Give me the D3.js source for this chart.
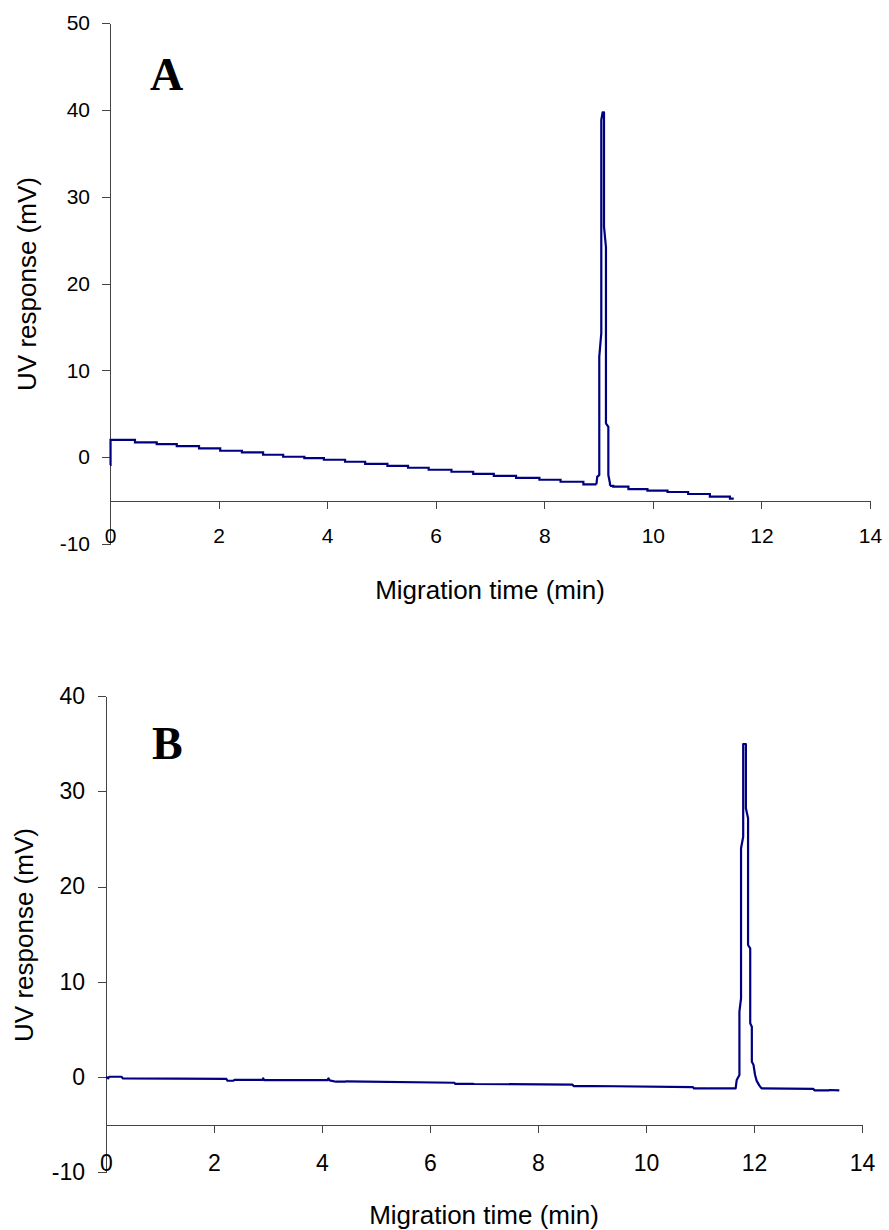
<!DOCTYPE html>
<html>
<head>
<meta charset="utf-8">
<script src="https://cdn.jsdelivr.net/npm/d3@7"></script>
<style>
  body { margin: 0; background: #fff; }
  svg { display: block; font-family: "Liberation Sans", Arial, sans-serif; }
  .axis path, .axis line { stroke: #444; shape-rendering: crispEdges; }
  .axis text { fill: #000; }
</style>
</head>
<body>
<svg id="chart" width="889" height="1230"></svg>
<script>
// tick values
const xTicks = [0, 2, 4, 6, 8, 10, 12, 14];
const yTicksA = [-10, 0, 10, 20, 30, 40, 50];
const yTicksB = [-10, 0, 10, 20, 30, 40];

// panel A: [time (min), response (mV)]
const aBaseline = [
  [0.00, -0.9], [0.01, 1.98], [0.46, 1.71], [0.86, 1.51], [1.23, 1.28], [1.64, 1.02],
  [2.03, 0.74], [2.43, 0.56], [2.82, 0.28], [3.19, 0.05], [3.58, -0.12], [3.94, -0.30],
  [4.33, -0.53], [4.70, -0.77], [5.11, -1.00], [5.49, -1.22], [5.87, -1.45], [6.29, -1.68],
  [6.69, -1.92], [7.07, -2.15], [7.48, -2.38], [7.91, -2.60], [8.30, -2.83], [8.72, -3.13],
  [8.96, -3.13]
];
const aPeak = [
  [8.96, -3.13], [8.976, -2.25], [9.013, -2.06], [9.013, 11.57], [9.05, 14.27], [9.05, 38.83],
  [9.075, 39.72], [9.10, 39.72], [9.10, 26.54], [9.136, 24.2], [9.136, 3.9], [9.18, 3.5],
  [9.18, -2.06], [9.21, -3.0], [9.21, -3.3]
];
const aTail = [
  [9.21, -3.3], [9.27, -3.4], [9.55, -3.67], [9.90, -3.86], [10.27, -4.01], [10.65, -4.24],
  [11.05, -4.55], [11.42, -4.78], [11.47, -4.9]
];

// panel B
const bTrace = [
  [0.00, 0.03], [0.04, -0.14], [0.06, 0.03], [0.29, 0.03], [0.31, -0.14], [2.23, -0.20],
  [2.25, -0.39], [2.36, -0.39], [2.38, -0.30], [2.90, -0.30], [2.91, -0.14], [2.93, -0.33],
  [4.10, -0.33], [4.12, -0.14], [4.14, -0.35], [4.26, -0.49], [4.43, -0.49], [4.45, -0.45],
  [6.45, -0.60], [6.47, -0.72], [6.80, -0.72], [6.82, -0.73], [8.64, -0.80], [8.66, -0.95],
  [8.99, -0.95], [9.01, -0.94], [10.87, -1.05], [10.89, -1.20], [11.15, -1.20], [11.17, -1.19],
  [11.66, -1.19], [11.68, -0.31], [11.73, 0.21], [11.73, 6.86], [11.76, 8.27], [11.76, 24.01],
  [11.80, 25.23], [11.80, 34.96], [11.85, 34.96], [11.85, 28.21], [11.89, 27.16], [11.89, 13.86],
  [11.93, 13.51], [11.93, 5.64], [11.96, 5.29], [11.96, 1.61], [11.99, 1.3], [12.02, 0.21],
  [12.05, -0.4], [12.10, -0.9], [12.14, -1.19], [13.10, -1.25], [13.12, -1.40], [13.38, -1.40],
  [13.40, -1.36], [13.58, -1.40]
];

const svg = d3.select("#chart");
const traceColor = "#000080";
const plain = d => String(d);   // keep the hyphen in "-10"

function drawPanel(o) {
  const x = d3.scaleLinear().domain([0, 14]).range([o.left, o.right]);
  const y = d3.scaleLinear().domain([-10, o.yMax]).range([o.bottom, o.top]);
  const g = svg.append("g");

  g.append("g")
    .attr("class", "axis")
    .attr("transform", "translate(" + o.left + ",0)")
    .call(d3.axisLeft(y).tickValues(o.yTicks).tickFormat(plain)
      .tickSize(8).tickPadding(o.yPad).tickSizeOuter(0))
    .attr("font-family", null)
    .attr("font-size", o.tickFont);

  g.append("g")
    .attr("class", "axis")
    .attr("transform", "translate(0," + y(-5) + ")")
    .call(d3.axisBottom(x).tickValues(xTicks).tickFormat(plain)
      .tickSize(8).tickPadding(o.xPad).tickSizeOuter(0))
    .attr("font-family", null)
    .attr("font-size", o.tickFont);

  const step = d3.line().x(d => x(d[0])).y(d => y(d[1])).curve(d3.curveStepAfter);
  const lin = d3.line().x(d => x(d[0])).y(d => y(d[1]));

  o.steps.forEach(s => {
    g.append("path").attr("d", step(s))
      .attr("fill", "none").attr("stroke", traceColor).attr("stroke-width", 2.2);
  });
  o.lines.forEach(s => {
    g.append("path").attr("d", lin(s))
      .attr("fill", "none").attr("stroke", traceColor).attr("stroke-width", 2.2)
      .attr("stroke-linejoin", "round");
  });

  g.append("text")
    .attr("transform", "translate(" + o.yTitleX + "," + o.yTitleY + ") rotate(-90)")
    .attr("text-anchor", "middle")
    .attr("font-size", 26)
    .text("UV response (mV)");

  g.append("text")
    .attr("x", (o.left + o.right) / 2)
    .attr("y", o.xTitleY)
    .attr("text-anchor", "middle")
    .attr("font-size", 26)
    .text("Migration time (min)");

  g.append("text")
    .attr("x", o.labelX)
    .attr("y", o.labelY)
    .attr("font-family", "'Liberation Serif', 'Times New Roman', serif")
    .attr("font-weight", "bold")
    .attr("font-size", 46)
    .text(o.label);
}

drawPanel({
  label: "A", labelX: 150, labelY: 90,
  left: 110, right: 870, top: 23, bottom: 544, yMax: 50, yTicks: yTicksA,
  tickFont: 21, yPad: 12, xPad: 19.5,
  yTitleX: 36, yTitleY: 284, xTitleY: 599,
  steps: [aBaseline, aTail], lines: [aPeak]
});

drawPanel({
  label: "B", labelX: 152, labelY: 759,
  left: 106, right: 862, top: 696, bottom: 1172.3, yMax: 40, yTicks: yTicksB,
  tickFont: 23, yPad: 13, xPad: 22,
  yTitleX: 33, yTitleY: 935, xTitleY: 1224,
  steps: [], lines: [bTrace]
});
</script>
</body>
</html>
